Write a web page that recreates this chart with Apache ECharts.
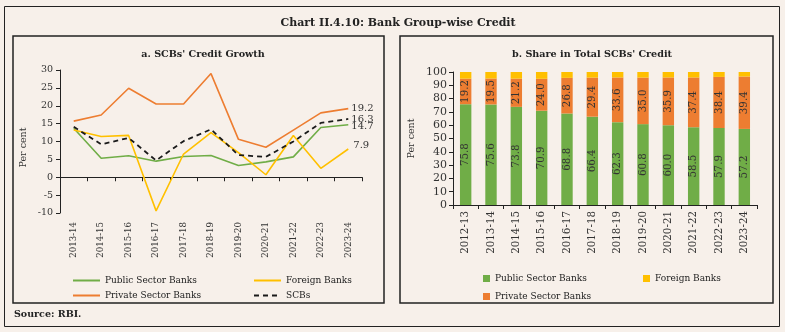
<!DOCTYPE html>
<html>
<head>
<meta charset="utf-8">
<script src="https://cdn.jsdelivr.net/npm/echarts@6/dist/echarts.min.js"></script>
<style>
  html, body { margin: 0; padding: 0; background: #f7f0ea; }
  #chart { width: 785px; height: 332px; }
</style>
</head>
<body>
<div id="chart"></div>
<script>
// Panel a: credit growth by bank group (per cent)
const growthYears = ['2013-14','2014-15','2015-16','2016-17','2017-18','2018-19','2019-20','2020-21','2021-22','2022-23','2023-24'];
const growthPublic  = [13.7, 5.3, 6.0, 4.5, 5.8, 6.1, 3.3, 4.3, 5.7, 13.9, 14.7];
const growthPrivate = [15.7, 17.4, 24.9, 20.5, 20.5, 29.0, 10.6, 8.4, 13.2, 18.0, 19.2];
const growthForeign = [13.2, 11.4, 11.7, -9.4, 6.5, 12.5, 6.9, 0.7, 11.7, 2.5, 7.9];
const growthSCBs    = [14.1, 9.2, 11.0, 4.7, 10.1, 13.4, 6.2, 5.7, 10.0, 15.2, 16.3];

// Panel b: share in total SCBs' credit (per cent)
const shareYears = ['2012-13','2013-14','2014-15','2015-16','2016-17','2017-18','2018-19','2019-20','2020-21','2021-22','2022-23','2023-24'];
const sharePublic  = [75.8, 75.6, 73.8, 70.9, 68.8, 66.4, 62.3, 60.8, 60.0, 58.5, 57.9, 57.2];
const sharePrivate = [19.2, 19.5, 21.2, 24.0, 26.8, 29.4, 33.6, 35.0, 35.9, 37.4, 38.4, 39.4];
const shareForeign = [5.0, 4.9, 5.0, 5.1, 4.4, 4.2, 4.1, 4.2, 4.1, 4.1, 3.7, 3.4];

const FONT = 'DejaVu Serif';
const INK = '#222';
const GREEN = '#70ad47', ORANGE = '#ed7d31', YELLOW = '#ffc000';

const chart = echarts.init(document.getElementById('chart'), null, { renderer: 'canvas' });

const legendText = { fontFamily: FONT, fontSize: 9, color: INK };
// line legends: show only the stroke, no marker
const lineLegend = (name, left, top) => ({
  data: [name], left, top, itemWidth: 27, itemHeight: 10, itemGap: 5,
  itemStyle: { opacity: 0 }, textStyle: legendText
});
const boxLegend = (name, left, top) => ({
  data: [{ name, icon: 'rect' }], left, top, itemWidth: 7, itemHeight: 7, itemGap: 5, textStyle: legendText
});

const endLabel = (extra) => Object.assign({
  show: true, formatter: p => p.value.toFixed(1),
  fontFamily: FONT, fontSize: 10, color: '#333', distance: 3
}, extra || {});

const lineSeries = (name, data, color, extra) => Object.assign({
  name, type: 'line', xAxisIndex: 0, yAxisIndex: 0, data,
  symbol: 'none', smooth: false,
  lineStyle: { color, width: 1.6 },
  itemStyle: { color },
  endLabel: endLabel()
}, extra || {});

const barLabel = {
  show: true, position: 'inside', rotate: 90,
  fontFamily: FONT, fontSize: 10.3, color: '#333',
  formatter: p => p.value.toFixed(1)
};

chart.setOption({
  backgroundColor: '#f7f0ea',
  animation: false,
  graphic: [
    { type: 'rect', shape: { x: 4.5, y: 6.5, width: 775, height: 320 }, style: { fill: 'none', stroke: INK, lineWidth: 1 }, z: -1 },
    { type: 'rect', shape: { x: 13, y: 36, width: 371, height: 267 }, style: { fill: 'none', stroke: INK, lineWidth: 1.5 }, z: -1 },
    { type: 'rect', shape: { x: 400, y: 36, width: 373, height: 267 }, style: { fill: 'none', stroke: INK, lineWidth: 1.5 }, z: -1 },
    { type: 'text', left: 14, top: 310, style: { text: 'Source: RBI.', font: 'bold 9.5px "DejaVu Serif"', fill: INK } }
  ],
  title: [
    { text: 'Chart II.4.10: Bank Group-wise Credit', left: 393, top: 13, textAlign: 'center',
      textStyle: { fontFamily: FONT, fontWeight: 'bold', fontSize: 11, color: INK } },
    { text: "a. SCBs' Credit Growth", left: 198, top: 44, textAlign: 'center',
      textStyle: { fontFamily: FONT, fontWeight: 'bold', fontSize: 9.6, color: INK } },
    { text: "b. Share in Total SCBs' Credit", left: 587, top: 44, textAlign: 'center',
      textStyle: { fontFamily: FONT, fontWeight: 'bold', fontSize: 9.6, color: INK } }
  ],
  legend: [
    lineLegend('Public Sector Banks', 67, 271),
    lineLegend('Foreign Banks', 248, 271),
    lineLegend('Private Sector Banks', 67, 286),
    lineLegend('SCBs', 248, 286),
    boxLegend('Public Sector Banks ', 478, 269),
    boxLegend('Foreign Banks ', 638, 269),
    boxLegend('Private Sector Banks ', 478, 287)
  ],
  grid: [
    { left: 60, top: 70, width: 302, height: 143, containLabel: false },
    { left: 453, top: 72, width: 304, height: 133, containLabel: false }
  ],
  xAxis: [
    { type: 'category', gridIndex: 0, data: growthYears, boundaryGap: true,
      axisLine: { onZero: true, lineStyle: { color: INK, width: 1 } },
      axisTick: { show: true, length: 4, lineStyle: { color: INK } },
      axisLabel: { rotate: 90, margin: 9, fontFamily: FONT, fontSize: 8.6, color: '#333', interval: 0 } },
    { type: 'category', gridIndex: 1, data: shareYears, boundaryGap: true,
      axisLine: { lineStyle: { color: INK, width: 1 } },
      axisTick: { show: true, length: 4, lineStyle: { color: INK } },
      axisLabel: { rotate: 90, margin: 6, fontFamily: FONT, fontSize: 10.3, color: '#333', interval: 0 } }
  ],
  yAxis: [
    { type: 'value', gridIndex: 0, min: -10, max: 30, interval: 5,
      name: 'Per cent', nameLocation: 'middle', nameGap: 31,
      nameTextStyle: { fontFamily: FONT, fontSize: 9.5, color: '#333', padding: [0, 0, 0, -12] },
      axisLine: { show: true, lineStyle: { color: INK, width: 1 } },
      axisTick: { show: true, length: 4, lineStyle: { color: INK } },
      axisLabel: { fontFamily: FONT, fontSize: 9.5, color: '#333', margin: 7 },
      splitLine: { show: false } },
    { type: 'value', gridIndex: 1, min: 0, max: 100, interval: 10,
      name: 'Per cent', nameLocation: 'middle', nameGap: 36,
      nameTextStyle: { fontFamily: FONT, fontSize: 9.5, color: '#333' },
      axisLine: { show: true, lineStyle: { color: INK, width: 1 } },
      axisTick: { show: true, length: 4, lineStyle: { color: INK } },
      axisLabel: { fontFamily: FONT, fontSize: 11, color: '#333', margin: 6 },
      splitLine: { show: false } }
  ],
  series: [
    lineSeries('Public Sector Banks', growthPublic, GREEN, { endLabel: endLabel({ offset: [0, 2] }) }),
    lineSeries('Foreign Banks', growthForeign, YELLOW, { endLabel: endLabel({ distance: 5, offset: [0, -4] }) }),
    lineSeries('Private Sector Banks', growthPrivate, ORANGE),
    lineSeries('SCBs', growthSCBs, '#1a1a1a', { lineStyle: { color: '#1a1a1a', width: 1.8, type: [5, 4] }, z: 3 }),
    { name: 'Public Sector Banks ', type: 'bar', xAxisIndex: 1, yAxisIndex: 1, stack: 'share', data: sharePublic,
      barWidth: '45%', itemStyle: { color: GREEN }, label: barLabel },
    { name: 'Private Sector Banks ', type: 'bar', xAxisIndex: 1, yAxisIndex: 1, stack: 'share', data: sharePrivate,
      barWidth: '45%', itemStyle: { color: ORANGE }, label: barLabel },
    { name: 'Foreign Banks ', type: 'bar', xAxisIndex: 1, yAxisIndex: 1, stack: 'share', data: shareForeign,
      barWidth: '45%', itemStyle: { color: YELLOW } }
  ]
});
</script>
</body>
</html>
